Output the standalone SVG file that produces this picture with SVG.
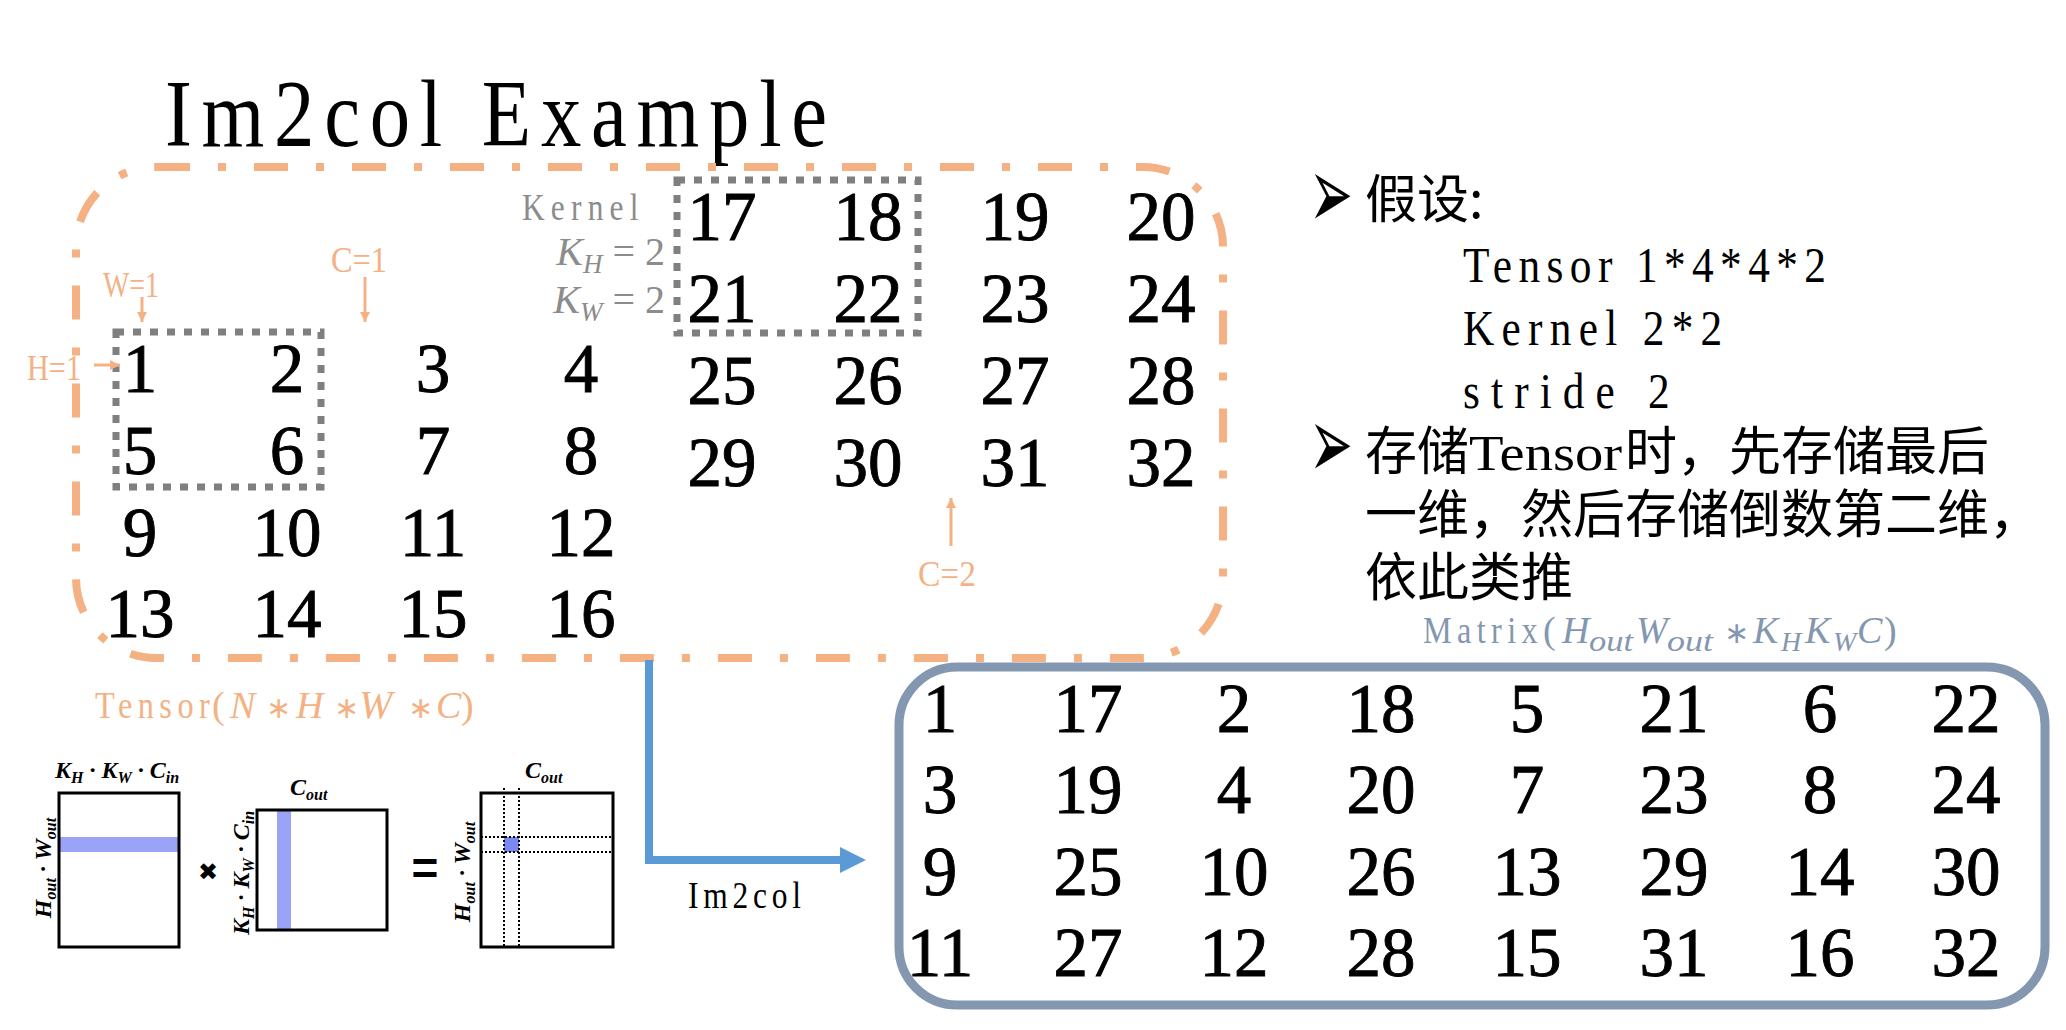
<svg xmlns="http://www.w3.org/2000/svg" width="2066" height="1030" viewBox="0 0 2066 1030">
<style>
.num{font-family:"Liberation Serif",serif;font-size:69px;text-anchor:middle;fill:#000;stroke:#000;stroke-width:0.9px}
.serif{font-family:"Liberation Serif",serif}
.it{font-family:"Liberation Serif",serif;font-style:italic}
.op{font-family:"DejaVu Sans",sans-serif;font-size:30px}
.cjk{font-family:"Noto Sans CJK SC",sans-serif;font-size:52px;fill:#000}
.org{fill:#F4B183}
.gray{fill:#8C8C8C}
.bi{font-family:"Liberation Serif",serif;font-style:italic;font-weight:bold;font-size:24px;fill:#000}
.kdot{fill:none;stroke:#7F7F7F;stroke-width:7;stroke-dasharray:8 9}
.oarr{fill:none;stroke:#F4B183;stroke-width:3}
.dotl{stroke:#000;stroke-width:2;stroke-dasharray:2 2;fill:none}
.mrect{fill:none;stroke:#000;stroke-width:3}
.bul{font-family:"DejaVu Sans",sans-serif;font-size:70px;fill:#000}
</style>
<defs>
<marker id="oh" markerUnits="userSpaceOnUse" markerWidth="12" markerHeight="12" refX="10" refY="5" orient="auto">
<path d="M0,0 L10,5 L0,10 z" fill="#F4B183"/>
</marker>
<marker id="bh" markerUnits="userSpaceOnUse" markerWidth="30" markerHeight="28" refX="0" refY="13" orient="auto">
<path d="M0,0 L26,13 L0,26 z" fill="#5B9BD5"/>
</marker>
</defs>

<g id="title">
<text class="serif" transform="scale(0.85 1)" x="194.1" y="146" font-size="95" textLength="779" lengthAdjust="spacing">Im2col Example</text>
</g>

<g id="tensor-box">
<rect x="76" y="167" width="1147" height="491" rx="80" ry="80" fill="none" stroke="#F4B183" stroke-width="8" stroke-dasharray="34 28 8 28"/>
<text class="serif org" transform="scale(0.85 1)" x="111.8" y="718" font-size="38" textLength="135" lengthAdjust="spacing">Tensor</text>
<text class="org" y="718" font-size="38"><tspan x="212" class="serif">(</tspan><tspan x="230" class="it">N</tspan><tspan x="266" class="op">∗</tspan><tspan x="296" class="it">H</tspan><tspan x="334" class="op">∗</tspan><tspan x="359" class="it" font-size="40">W</tspan><tspan x="408" class="op">∗</tspan><tspan x="436" class="it">C</tspan><tspan x="461" class="serif">)</tspan></text>
</g>

<g id="grid1">
<text class="num" x="140" y="392">1</text><text class="num" x="287" y="392">2</text><text class="num" x="433" y="392">3</text><text class="num" x="581" y="392">4</text>
<text class="num" x="140" y="474">5</text><text class="num" x="287" y="474">6</text><text class="num" x="433" y="474">7</text><text class="num" x="581" y="474">8</text>
<text class="num" x="140" y="556">9</text><text class="num" x="287" y="556">10</text><text class="num" x="433" y="556">11</text><text class="num" x="581" y="556">12</text>
<text class="num" x="140" y="637">13</text><text class="num" x="287" y="637">14</text><text class="num" x="433" y="637">15</text><text class="num" x="581" y="637">16</text>
</g>

<g id="grid2">
<text class="num" x="722" y="240">17</text><text class="num" x="868" y="240">18</text><text class="num" x="1015" y="240">19</text><text class="num" x="1161" y="240">20</text>
<text class="num" x="722" y="322">21</text><text class="num" x="868" y="322">22</text><text class="num" x="1015" y="322">23</text><text class="num" x="1161" y="322">24</text>
<text class="num" x="722" y="404">25</text><text class="num" x="868" y="404">26</text><text class="num" x="1015" y="404">27</text><text class="num" x="1161" y="404">28</text>
<text class="num" x="722" y="486">29</text><text class="num" x="868" y="486">30</text><text class="num" x="1015" y="486">31</text><text class="num" x="1161" y="486">32</text>
</g>

<g id="kernel1"><rect class="kdot" x="116" y="332" width="205" height="155"/></g>
<g id="kernel2"><rect class="kdot" x="677" y="180" width="241" height="153"/></g>

<g id="kernel-label">
<text class="serif gray" transform="scale(0.85 1)" x="614.1" y="220" font-size="37" textLength="137" lengthAdjust="spacing">Kernel</text>
<text class="gray" x="665" y="265" font-size="40" text-anchor="end"><tspan class="it">K</tspan><tspan class="it" font-size="27" dy="8">H</tspan><tspan class="serif" dy="-8"> = 2</tspan></text>
<text class="gray" x="665" y="313" font-size="40" text-anchor="end"><tspan class="it">K</tspan><tspan class="it" font-size="27" dy="8">W</tspan><tspan class="serif" dy="-8"> = 2</tspan></text>
</g>

<g id="dim-labels">
<text class="serif org" x="103" y="297" font-size="36" textLength="56" lengthAdjust="spacingAndGlyphs">W=1</text>
<text class="serif org" x="331" y="272" font-size="36" textLength="56" lengthAdjust="spacingAndGlyphs">C=1</text>
<text class="serif org" x="27" y="380" font-size="36" textLength="54" lengthAdjust="spacingAndGlyphs">H=1</text>
<text class="serif org" x="918" y="586" font-size="36" textLength="58" lengthAdjust="spacingAndGlyphs">C=2</text>
</g>

<g id="connectors">
<path class="oarr" d="M142,297 V322" marker-end="url(#oh)"/>
<path class="oarr" d="M365,277 V322" marker-end="url(#oh)"/>
<path class="oarr" d="M94,365 H120" marker-end="url(#oh)"/>
<path class="oarr" d="M951,546 V498" marker-end="url(#oh)"/>
<path d="M649,660 V860 H840" fill="none" stroke="#5B9BD5" stroke-width="8" marker-end="url(#bh)"/>
<text class="serif" transform="scale(0.85 1)" x="809.4" y="908" font-size="37" textLength="133" lengthAdjust="spacing">Im2col</text>
</g>

<g id="notes">
<text class="bul" transform="translate(1309,228) scale(0.75 1.45)">➢</text>
<text class="bul" transform="translate(1309,478) scale(0.75 1.45)">➢</text>
<text class="serif" transform="scale(0.85 1)" x="1721.2" y="282" font-size="51" textLength="427" lengthAdjust="spacing">Tensor 1*4*4*2</text>
<text class="serif" transform="scale(0.85 1)" x="1721.2" y="345" font-size="51" textLength="305" lengthAdjust="spacing">Kernel 2*2</text>
<text class="serif" transform="scale(0.85 1)" x="1721.2" y="408" font-size="51" textLength="243" lengthAdjust="spacing">stride 2</text>
<text class="cjk"><tspan x="1365" y="218">假设:</tspan><tspan x="1365" y="470">存储</tspan><tspan x="1469" y="470" class="serif" font-size="51" textLength="153" lengthAdjust="spacingAndGlyphs">Tensor</tspan><tspan x="1625" y="470">时，先存储最后</tspan><tspan x="1365" y="533">一维，然后存储倒数第二维，</tspan><tspan x="1365" y="596">依此类推</tspan></text>
</g>

<g id="matrix-label">
<text class="serif" transform="scale(0.85 1)" x="1674.1" y="643" font-size="38" fill="#8497B0" textLength="135" lengthAdjust="spacing">Matrix</text>
<text fill="#8497B0" y="643" font-size="38"><tspan x="1543" class="serif">(</tspan><tspan x="1562" class="it">H</tspan><tspan x="1589" class="it" font-size="30" dy="8" textLength="44" lengthAdjust="spacingAndGlyphs">out</tspan><tspan x="1636" class="it" dy="-8">W</tspan><tspan x="1667" class="it" font-size="30" dy="8" textLength="46" lengthAdjust="spacingAndGlyphs">out</tspan><tspan x="1724" class="op" dy="-8">∗</tspan><tspan x="1753" class="it">K</tspan><tspan x="1781" class="it" font-size="28" dy="8">H</tspan><tspan x="1805" class="it" dy="-8">K</tspan><tspan x="1833" class="it" font-size="28" dy="8">W</tspan><tspan x="1857" class="it" dy="-8">C</tspan><tspan x="1884" class="serif">)</tspan></text>
</g>

<g id="matrix">
<rect x="899" y="667" width="1146" height="338" rx="58" ry="58" fill="none" stroke="#8497B0" stroke-width="9"/>
<text class="num" x="940" y="732">1</text><text class="num" x="1088" y="732">17</text><text class="num" x="1234" y="732">2</text><text class="num" x="1381" y="732">18</text><text class="num" x="1527" y="732">5</text><text class="num" x="1674" y="732">21</text><text class="num" x="1820" y="732">6</text><text class="num" x="1966" y="732">22</text>
<text class="num" x="940" y="813">3</text><text class="num" x="1088" y="813">19</text><text class="num" x="1234" y="813">4</text><text class="num" x="1381" y="813">20</text><text class="num" x="1527" y="813">7</text><text class="num" x="1674" y="813">23</text><text class="num" x="1820" y="813">8</text><text class="num" x="1966" y="813">24</text>
<text class="num" x="940" y="895">9</text><text class="num" x="1088" y="895">25</text><text class="num" x="1234" y="895">10</text><text class="num" x="1381" y="895">26</text><text class="num" x="1527" y="895">13</text><text class="num" x="1674" y="895">29</text><text class="num" x="1820" y="895">14</text><text class="num" x="1966" y="895">30</text>
<text class="num" x="940" y="976">11</text><text class="num" x="1088" y="976">27</text><text class="num" x="1234" y="976">12</text><text class="num" x="1381" y="976">28</text><text class="num" x="1527" y="976">15</text><text class="num" x="1674" y="976">31</text><text class="num" x="1820" y="976">16</text><text class="num" x="1966" y="976">32</text>
</g>

<g id="gemm-figure">
<rect x="59" y="837" width="120" height="15" fill="#9AA3F5"/>
<rect class="mrect" x="59" y="793" width="120" height="154"/>
<text class="bi" x="55" y="778">K<tspan font-size="16" dy="5">H</tspan><tspan dy="-5"> · K</tspan><tspan font-size="16" dy="5">W</tspan><tspan dy="-5"> · C</tspan><tspan font-size="16" dy="5">in</tspan></text>
<text class="bi" transform="translate(51,868) rotate(-90)" text-anchor="middle">H<tspan font-size="16" dy="5">out</tspan><tspan dy="-5"> · W</tspan><tspan font-size="16" dy="5">out</tspan></text>
<text x="208" y="880" font-family="DejaVu Sans,sans-serif" font-size="24" text-anchor="middle">✖</text>
<rect x="277" y="810" width="14" height="120" fill="#9AA3F5"/>
<rect class="mrect" x="257" y="810" width="130" height="120"/>
<text class="bi" x="290" y="795">C<tspan font-size="16" dy="5">out</tspan></text>
<text class="bi" transform="translate(249,873) rotate(-90)" text-anchor="middle">K<tspan font-size="16" dy="5">H</tspan><tspan dy="-5"> · K</tspan><tspan font-size="16" dy="5">W</tspan><tspan dy="-5"> · C</tspan><tspan font-size="16" dy="5">in</tspan></text>
<text x="425" y="884" font-family="Liberation Sans,sans-serif" font-weight="bold" font-size="46" text-anchor="middle">=</text>
<rect x="504" y="837" width="15" height="15" fill="#7B88F2"/>
<rect class="mrect" x="481" y="793" width="132" height="154"/>
<path class="dotl" d="M504,788 V947 M519,788 V947 M481,837 H611 M481,852 H611"/>
<text class="bi" x="525" y="778">C<tspan font-size="16" dy="5">out</tspan></text>
<text class="bi" transform="translate(470,872) rotate(-90)" text-anchor="middle">H<tspan font-size="16" dy="5">out</tspan><tspan dy="-5"> · W</tspan><tspan font-size="16" dy="5">out</tspan></text>
</g>
</svg>
